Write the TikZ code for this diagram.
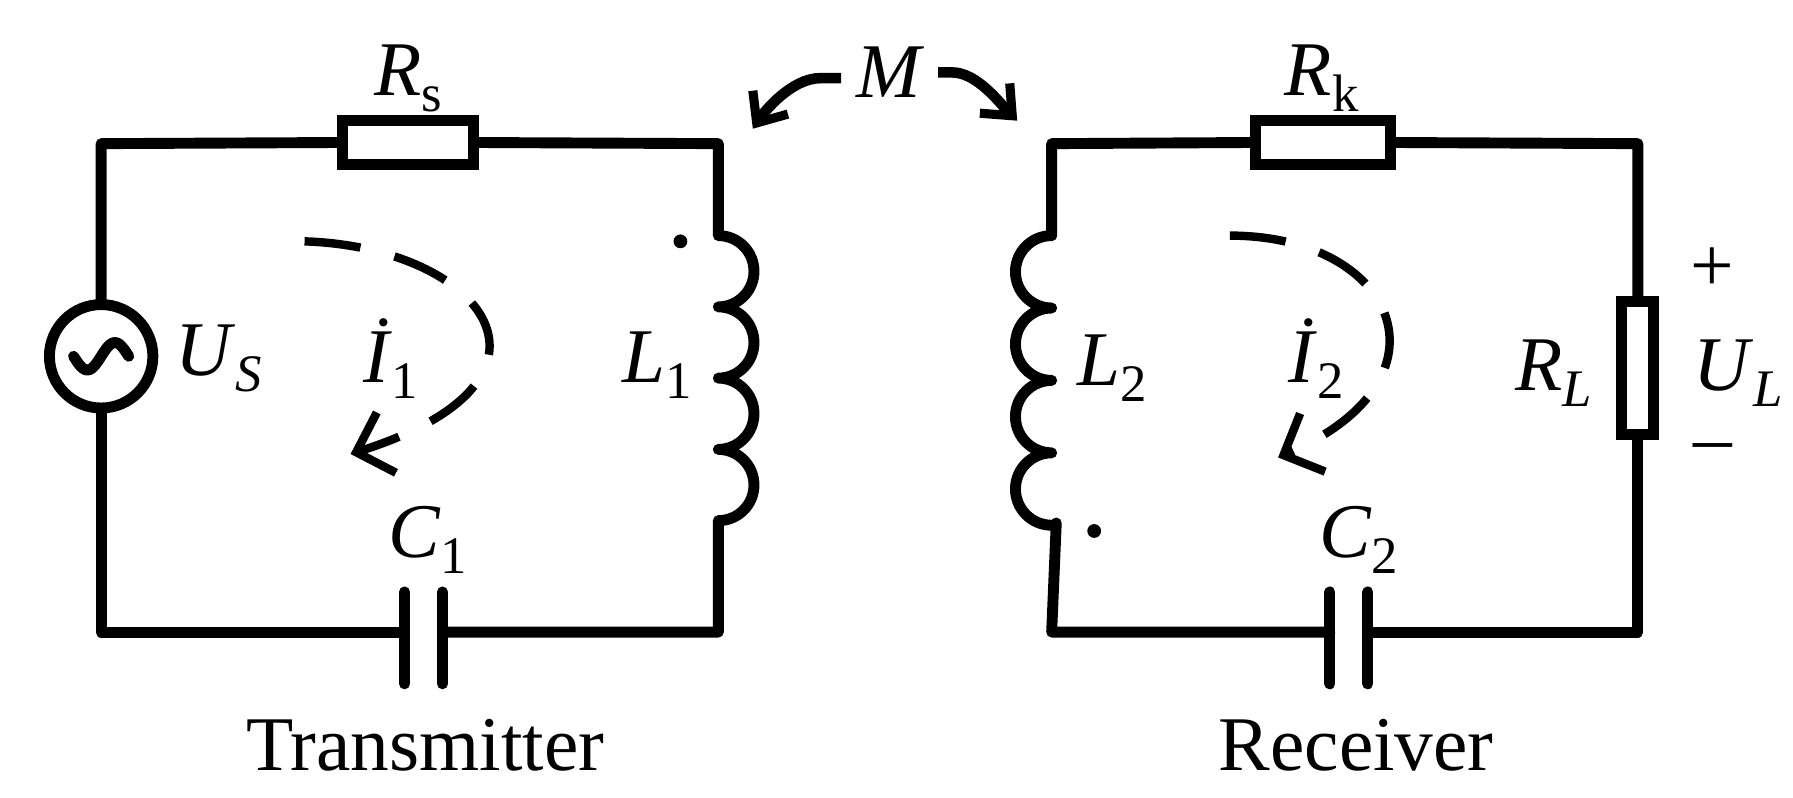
\documentclass[tikz,border=0pt]{standalone}
\usepackage{fontspec}
\setmainfont{Liberation Serif}
\usetikzlibrary{arrows.meta, positioning}
\newcommand{\sym}[2]{\textit{#1}\raisebox{-0.45ex}{\fontsize{15}{17}\selectfont #2}}

\begin{document}
\begin{tikzpicture}[x=0.01149cm, y=-0.01149cm,
      wire/.style={line width=3.1pt, line cap=round, line join=round},
      res/.style={draw, line width=3.1pt, fill=white, inner sep=0pt},
      lbl/.style={font=\fontsize{22}{24}\selectfont, inner sep=1pt},
      loopc/.style={line width=2.4pt, dash pattern=on 16pt off 10pt, -{Straight Barb[length=9pt, width=18pt, line width=2.4pt]}},
      marr/.style={line width=3pt, -{Straight Barb[length=7pt, width=12pt, line width=2.6pt]}},
    ]
    \useasboundingbox (0,0) rectangle (1560,694);

    % transmitter
    \coordinate (tl) at (88,125);
    \coordinate (tr) at (625,125);
    \coordinate (br) at (625,550);
    \coordinate (bl) at (88,550);
    \node[draw, circle, line width=3.1pt, minimum size=90*0.01149cm] (us) at (88,310) {};
    \node[res, minimum width=114*0.01149cm, minimum height=38*0.01149cm] (rs) at (355,124) {};
    \draw[wire] (us.north) -- (tl) -- (rs.west);
    \draw[wire] (rs.east) -- (tr) -- (625,205)
      arc[start angle=-90, end angle=90, radius=31] arc[start angle=-90, end angle=90, radius=31]
      arc[start angle=-90, end angle=90, radius=31] arc[start angle=-90, end angle=90, radius=31]
      -- (br) -- (385,550);
    \draw[wire] (352,550) -- (bl) -- (us.south);
    \draw[wire] (352,515) -- (352,595) (385,515) -- (385,595);
    \draw[wire] plot[domain=-24:24, smooth, samples=25] ({88+\x},{310-12*sin(7.5*\x)});
    \fill (592,210) circle (6);
    \draw[loopc] (265,210) .. controls (420,215) and (510,330) .. (305,395);

    \node[lbl] (uslbl) at (190,312) {\sym{U}{\textit{S}}};
    \node[lbl] (rslbl) at (355,68) {\sym{R}{s}};
    \node[lbl] (l1lbl) at (572,318) {\sym{L}{1}};
    \node[lbl] (c1lbl) at (372,470) {\sym{C}{1}};
    \node[lbl] (i1lbl) at (340,312) {\sym{\.I}{1}};
    \node[lbl] (tx) at (370,648) {Transmitter};

    % receiver
    \coordinate (tl2) at (915,125);
    \coordinate (tr2) at (1425,125);
    \coordinate (br2) at (1425,550);
    \coordinate (bl2) at (915,550);
    \node[res, minimum width=118*0.01149cm, minimum height=38*0.01149cm] (rk) at (1151,124) {};
    \node[res, minimum width=28*0.01149cm, minimum height=116*0.01149cm] (rl) at (1425,320) {};
    \draw[wire] (915,205) -- (tl2) -- (rk.west);
    \draw[wire] (rk.east) -- (tr2) -- (rl.north);
    \draw[wire] (rl.south) -- (br2) -- (1190,550);
    \draw[wire] (1157,550) -- (bl2) -- (919,455);
    \draw[wire] (915,205)
      arc[start angle=270, end angle=90, radius=31.5] arc[start angle=270, end angle=90, radius=31.5]
      arc[start angle=270, end angle=90, radius=31.5] arc[start angle=270, end angle=90, radius=31.5];
    \draw[wire] (1157,515) -- (1157,595) (1190,515) -- (1190,595);
    \fill (952,462) circle (6);
    \draw[loopc] (1070,205) .. controls (1215,205) and (1270,330) .. (1112,398);

    \node[lbl] (l2lbl) at (968,320) {\sym{L}{2}};
    \node[lbl] (rklbl) at (1150,68) {\sym{R}{k}};
    \node[lbl] (rllbl) at (1352,325) {\sym{R}{\textit{L}}};
    \node[lbl] (ullbl) at (1512,325) {\sym{U}{\textit{L}}};
    \node[lbl] (plus) at (1490,235) {+};
    \node[lbl] (minus) at (1490,395) {\textendash};
    \node[lbl] (c2lbl) at (1182,470) {\sym{C}{2}};
    \node[lbl] (i2lbl) at (1145,312) {\sym{\.I}{2}};
    \node[lbl] (rx) at (1180,648) {Receiver};

    % coupling
    \node[lbl] (m) at (775,63) {\textit{M}};
    \draw[marr] (m.west) ++(-10,5) -- ++(-18,0) .. controls ++(-25,0) and ++(10,-15) .. (655,112);
    \draw[marr] (m.east) ++(8,0) -- ++(12,0) .. controls ++(22,0) and ++(-15,-15) .. (885,105);
  \end{tikzpicture}
\end{document}
